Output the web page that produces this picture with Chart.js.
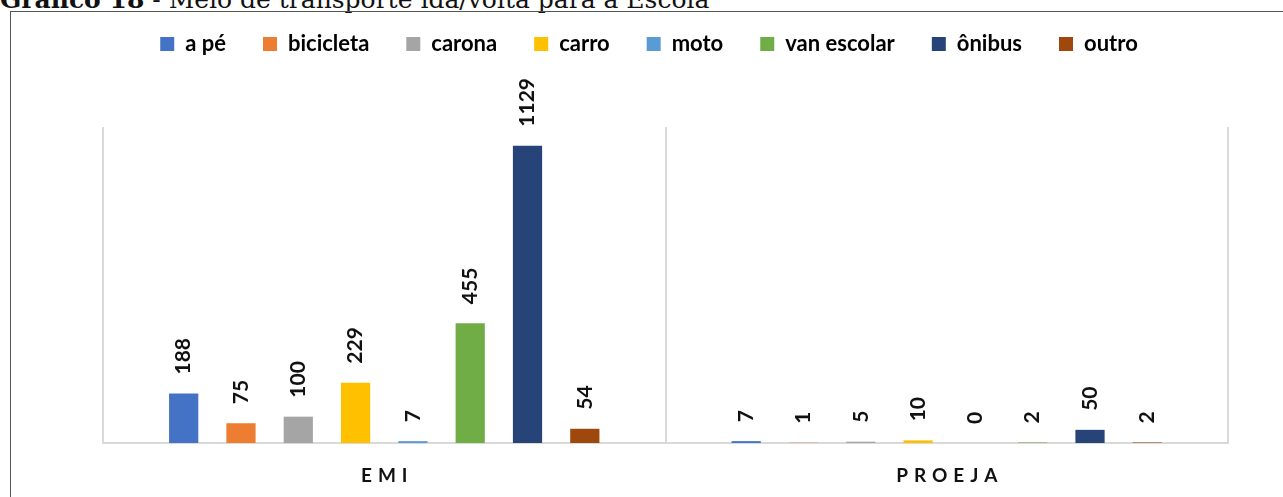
<!DOCTYPE html>
<html>
<head>
<meta charset="utf-8">
<script src="https://cdn.jsdelivr.net/npm/chart.js@4"></script>
<style>
  html, body { margin: 0; padding: 0; background: #fff; overflow: hidden; }
  #titulo { position: absolute; left: 0; top: -11px; font-family: "DejaVu Serif"; font-size: 25px; line-height: 22px; white-space: nowrap; color: #111; }
  #moldura { position: absolute; left: 10px; top: 11px; width: 1400px; height: 600px; border: 1.5px solid #555; }
  #wrap { position: absolute; left: 0; top: 0; width: 1283px; height: 497px; }
</style>
</head>
<body>
<div id="titulo"><b>Gráfico 18</b> - Meio de transporte ida/volta para a Escola</div>
<div id="moldura"></div>
<div id="wrap"><canvas id="grafico"></canvas></div>
<script>
// dados
const categorias = ['EMI', 'PROEJA'];
const aPe = [188, 7];
const bicicleta = [75, 1];
const carona = [100, 5];
const carro = [229, 10];
const moto = [7, 0];
const vanEscolar = [455, 2];
const onibus = [1129, 50];
const outro = [54, 2];

const nomes = ['a pé', 'bicicleta', 'carona', 'carro', 'moto', 'van escolar', 'ônibus', 'outro'];
const series = [aPe, bicicleta, carona, carro, moto, vanEscolar, onibus, outro];
const cores = ['#4472C4', '#ED7D31', '#A5A5A5', '#FFC000', '#5B9BD5', '#70AD47', '#264478', '#9E480E'];

const alturaLegenda = 131;

// força a altura da legenda pra área do gráfico começar no lugar certo
const ajusteLegenda = {
  id: 'ajusteLegenda',
  beforeLayout(chart) {
    const lg = chart.legend;
    if (lg && !lg._ajustado) {
      const fitOrig = lg.fit;
      lg.fit = function () {
        fitOrig.call(this);
        this.height = alturaLegenda;
      };
      lg._ajustado = true;
    }
  }
};

// rótulos de valor (girados) e nomes das categorias
const rotulos = {
  id: 'rotulos',
  afterDatasetsDraw(chart) {
    const ctx = chart.ctx;
    ctx.save();
    ctx.font = 'bold 21px Lato';
    ctx.fillStyle = '#111';
    ctx.textAlign = 'left';
    ctx.textBaseline = 'middle';
    chart.data.datasets.forEach((ds, i) => {
      chart.getDatasetMeta(i).data.forEach((bar, j) => {
        ctx.save();
        ctx.translate(bar.x, bar.y - 19);
        ctx.rotate(-Math.PI / 2);
        ctx.fillText(String(ds.data[j]), 0, 0);
        ctx.restore();
      });
    });

    const escalaX = chart.scales.x;
    ctx.font = 'bold 19px Lato';
    ctx.letterSpacing = '6px';
    ctx.textAlign = 'left';
    categorias.forEach((c, i) => {
      const w = ctx.measureText(c).width - 6;
      ctx.fillText(c, escalaX.getPixelForValue(i) - w / 2, 476);
    });
    ctx.restore();
  }
};

new Chart(document.getElementById('grafico'), {
  type: 'bar',
  data: {
    labels: categorias,
    datasets: nomes.map((n, i) => ({
      label: n,
      data: series[i],
      backgroundColor: cores[i],
      categoryPercentage: 0.815,
      barPercentage: 0.51
    }))
  },
  options: {
    responsive: true,
    maintainAspectRatio: false,
    animation: false,
    layout: { padding: { left: 70, right: 55, top: -4, bottom: 54 } },
    plugins: {
      legend: {
        position: 'top',
        labels: {
          boxWidth: 14,
          boxHeight: 14,
          padding: 37,
          color: '#000',
          font: { family: 'Lato', size: 22, weight: 'bold' }
        }
      },
      tooltip: { enabled: false }
    },
    scales: {
      x: {
        grid: { color: '#d9d9d9', lineWidth: 2, drawTicks: false },
        border: { color: '#d9d9d9', width: 2 },
        ticks: { display: false }
      },
      y: {
        min: 0,
        max: 1200,
        grid: { display: false },
        border: { display: false },
        ticks: { display: false },
        afterFit(s) { s.width = 33; }
      }
    }
  },
  plugins: [ajusteLegenda, rotulos]
});
</script>
</body>
</html>
